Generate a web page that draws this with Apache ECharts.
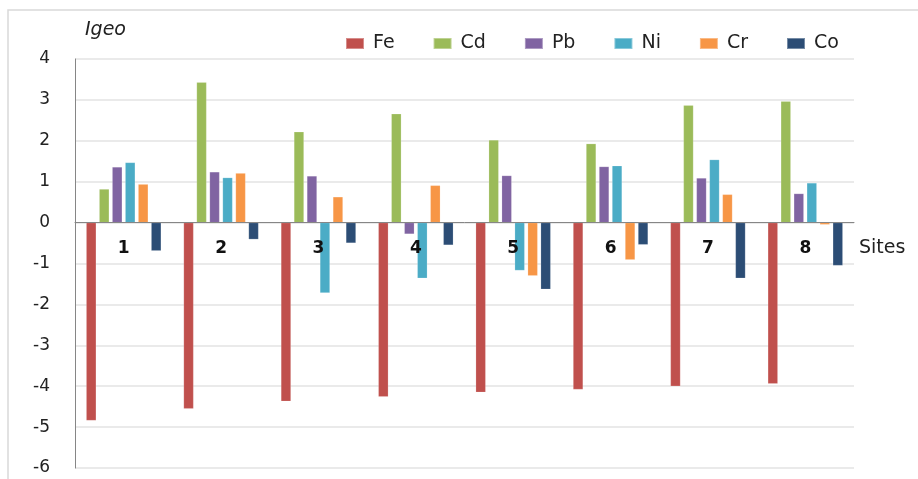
<!DOCTYPE html>
<html>
<head>
<meta charset="utf-8">
<script src="https://cdn.jsdelivr.net/npm/echarts@6/dist/echarts.min.js"></script>
<style>
  html, body { margin: 0; padding: 0; background: #fff; }
  #chart { width: 918px; height: 479px; }
</style>
</head>
<body>
<div id="chart"></div>
<script>
// sites on the x axis
const sites = ['1', '2', '3', '4', '5', '6', '7', '8'];

// Igeo values, one array per element
const fe = [-4.84, -4.55, -4.37, -4.26, -4.15, -4.08, -4.00, -3.94];
const cd = [0.82, 3.43, 2.22, 2.66, 2.02, 1.93, 2.87, 2.97];
const pb = [1.36, 1.24, 1.14, -0.28, 1.15, 1.37, 1.09, 0.71];
const ni = [1.47, 1.10, -1.72, -1.36, -1.17, 1.39, 1.54, 0.97];
const cr = [0.94, 1.21, 0.63, 0.91, -1.30, -0.91, 0.69, -0.05];
const co = [-0.69, -0.41, -0.50, -0.55, -1.63, -0.54, -1.36, -1.05];

const seriesNames = ['Fe', 'Cd', 'Pb', 'Ni', 'Cr', 'Co'];
const seriesColors = ['#C0504D', '#9BBB59', '#8064A2', '#4BACC6', '#F79646', '#2C4D75'];
const seriesData = [fe, cd, pb, ni, cr, co];

const yMin = -6, yMax = 4;

const font = '"DejaVu Sans", "Noto Sans", sans-serif';

// grid box, and where the zero line falls inside it
const gridTop = 59, gridBottom = 11, chartH = 479;
const gridH = chartH - gridTop - gridBottom;
const zeroOffset = gridH * (0 - yMin) / (yMax - yMin);

const chart = echarts.init(document.getElementById('chart'));

const option = {
  animation: false,
  textStyle: { fontFamily: font },
  graphic: [
    {
      // light frame round the picture
      type: 'rect',
      shape: { x: 8, y: 10, width: 940, height: 500 },
      style: { fill: 'none', stroke: '#d9d9d9', lineWidth: 1.5 },
      silent: true
    }
  ],
  legend: {
    left: 340,
    top: 29,
    itemWidth: 18,
    itemHeight: 11,
    itemGap: 38,
    icon: 'rect',
    textStyle: { fontSize: 19, color: '#222', fontFamily: font, padding: [0, 0, 0, 4] },
    data: seriesNames
  },
  grid: {
    left: 75,
    right: 64,
    top: gridTop,
    bottom: gridBottom,
    outerBoundsMode: 'none',
    containLabel: false
  },
  xAxis: {
    type: 'category',
    data: sites,
    position: 'bottom',
    offset: -zeroOffset,
    z: 5,
    name: 'Sites',
    nameLocation: 'end',
    nameGap: 5,
    nameTextStyle: {
      fontSize: 19,
      color: '#222',
      verticalAlign: 'top',
      padding: [16, 0, 0, 0]
    },
    axisLine: { onZero: false, lineStyle: { color: '#868686', width: 1 } },
    axisTick: { show: false },
    axisLabel: {
      margin: 17,
      fontSize: 17,
      fontWeight: 'bold',
      color: '#111'
    }
  },
  yAxis: {
    type: 'value',
    min: yMin,
    max: yMax,
    interval: 1,
    name: 'Igeo',
    nameLocation: 'end',
    nameGap: 19,
    nameTextStyle: {
      fontSize: 19,
      fontStyle: 'italic',
      color: '#222',
      align: 'left',
      padding: [0, 0, 0, 10]
    },
    axisLine: { show: true, lineStyle: { color: '#868686', width: 1 } },
    axisTick: { show: false },
    axisLabel: { fontSize: 17, color: '#222', margin: 25 },
    splitLine: { lineStyle: { color: '#e3e3e3', width: 1.5 } }
  },
  series: seriesNames.map((name, i) => ({
    name: name,
    type: 'bar',
    data: seriesData[i],
    barGap: '30%',
    barCategoryGap: '23%',
    itemStyle: {
      color: seriesColors[i],
      borderColor: 'rgba(255,255,255,0.35)',
      borderWidth: 0.5
    }
  }))
};

chart.setOption(option);
</script>
</body>
</html>
